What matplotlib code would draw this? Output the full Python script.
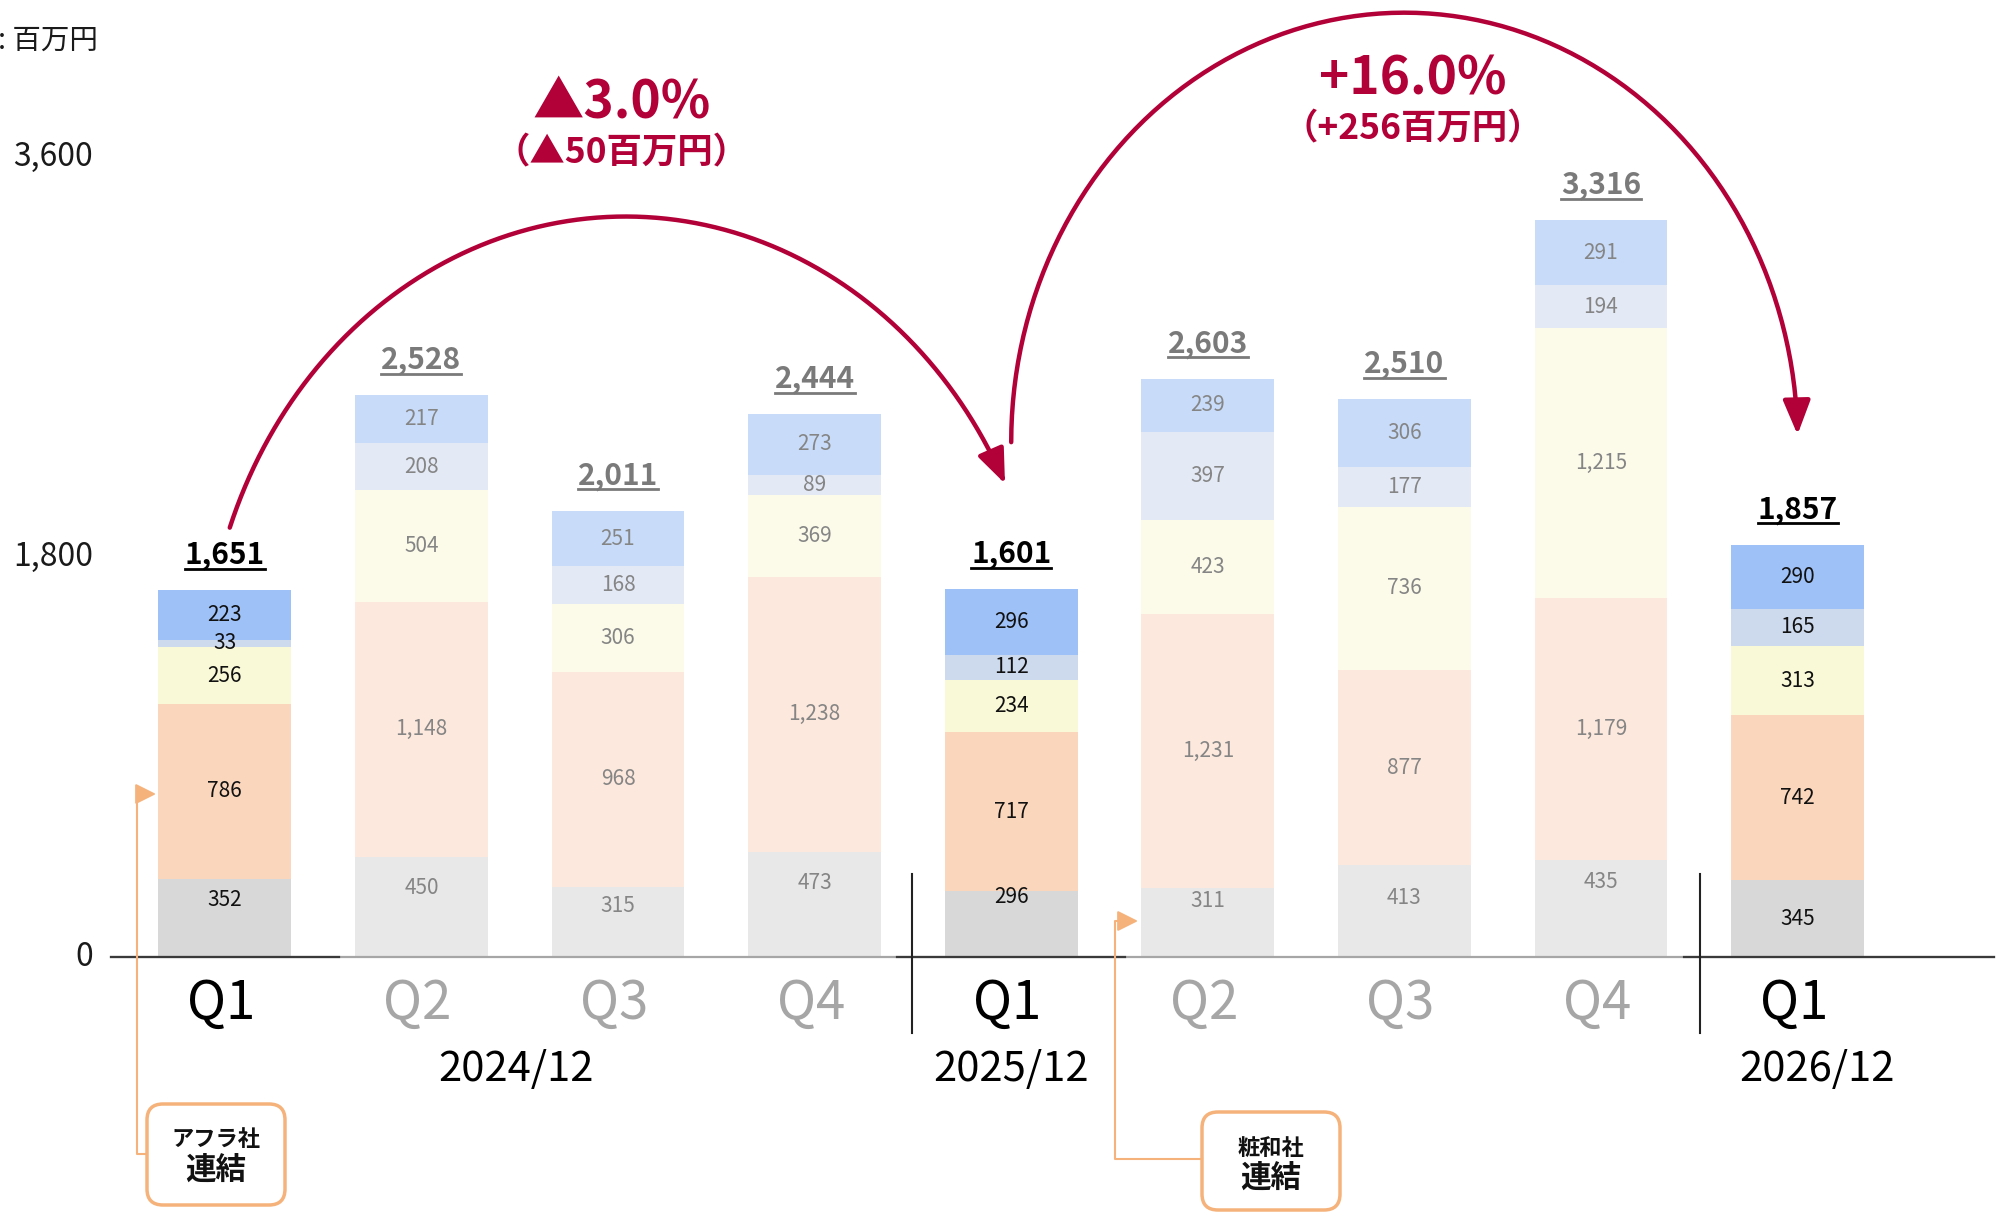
import matplotlib
matplotlib.use("Agg")
import matplotlib.pyplot as plt
import numpy as np
from matplotlib.path import Path
from matplotlib.patches import FancyArrowPatch, FancyBboxPatch

plt.rcParams['font.family'] = ['Noto Sans CJK JP', 'DejaVu Sans']

# --- data (百万円) ---
quarters = ['Q1', 'Q2', 'Q3', 'Q4', 'Q1', 'Q2', 'Q3', 'Q4', 'Q1']
years = ['2024/12', '2025/12', '2026/12']
totals = ['1,651', '2,528', '2,011', '2,444', '1,601', '2,603', '2,510', '3,316', '1,857']
seg_gray = [352, 450, 315, 473, 296, 311, 413, 435, 345]
seg_orange = [786, 1148, 968, 1238, 717, 1231, 877, 1179, 742]
seg_yellow = [256, 504, 306, 369, 234, 423, 736, 1215, 313]
seg_slate = [33, 208, 168, 89, 112, 397, 177, 194, 165]
seg_blue = [223, 217, 251, 273, 296, 239, 306, 291, 290]
highlight = [True, False, False, False, True, False, False, False, True]
ytick_vals = [0, 1800, 3600]
change_1 = ['▲3.0%', '（▲50百万円）']
change_2 = ['+16.0%', '（+256百万円）']
callouts = ['アフラ社\n連結', '粧和社\n連結']

# --- styles / layout ---
W, H = 2003, 1214
strong = ['#D8D8D8', '#FAD6BC', '#FAF9D7', '#CDD9EC', '#9EC1F7']
faded = ['#E8E8E8', '#FCE8DC', '#FCFBEA', '#E3E9F5', '#C8DCFA']
red = '#B20038'
orange_line = '#F5B27A'
gray_label_frac = [0.73, 0.69, 0.73, 0.70, 0.91, 0.81, 0.64, 0.78, 0.5]
year_x = [1.48, 4.0, 8.1]
bar_w = 0.676

fig = plt.figure(figsize=(W / 100, H / 100), dpi=100)
ax = fig.add_axes([0, 0, 1, 1])
ax.set_xlim(-1.1435, 9.0448)
ax.set_ylim(-1156, 4305)
ax.axis('off')

deco = fig.add_axes([0, 0, 1, 1], zorder=3)
deco.set_xlim(0, W)
deco.set_ylim(H, 0)
deco.axis('off')
deco.patch.set_alpha(0)

x = np.arange(len(quarters))
segments = [seg_gray, seg_orange, seg_yellow, seg_slate, seg_blue]
bottom = np.zeros(len(x))
for k, seg in enumerate(segments):
    cols = [strong[k] if h else faded[k] for h in highlight]
    ax.bar(x, seg, bottom=bottom, width=bar_w, color=cols, linewidth=0, zorder=2)
    for i, v in enumerate(seg):
        tc = '#111111' if highlight[i] else '#858585'
        ly = bottom[i] + (v * gray_label_frac[i] if k == 0 else v / 2)
        ax.text(i, ly, f'{v:,}', ha='center', va='center', fontsize=15, color=tc, zorder=4)
    bottom += np.array(seg)

# totals with underline
total_texts = []
for i, t in enumerate(totals):
    tc = '#000000' if highlight[i] else '#7A7A7A'
    total_texts.append(ax.text(i, bottom[i] + 119, t, ha='center', va='baseline',
                               fontsize=21.5, fontweight='bold', color=tc, zorder=4))

# baseline
ax.plot([-0.58, 9.0], [0, 0], color='#A6A6A6', lw=1.6, zorder=3)
for i, h in enumerate(highlight):
    if h:
        right = 9.0 if i == len(x) - 1 else i + 0.58
        ax.plot([i - 0.58, right], [0, 0], color='#3A3A3A', lw=1.6, zorder=3)
for sx in [3.495, 7.503]:
    ax.plot([sx, sx], [-341, 372], color='#222222', lw=1.5, zorder=3)

# category labels
for i, q in enumerate(quarters):
    ax.text(i - 0.02, -207, q, ha='center', va='center', fontsize=38,
            color='#000000' if highlight[i] else '#A6A6A6')
for xp, yr in zip(year_x, years):
    ax.text(xp, -508, yr, ha='center', va='center', fontsize=30, color='#000000')

# y tick labels
for v in ytick_vals:
    ax.text(-0.670, v, f'{v:,}', ha='right', va='center', fontsize=23, color='#1A1A1A')
deco.text(-2, 41, ': 百万円', ha='left', va='center', fontsize=20.5, color='#1A1A1A')


def arc(cx, cy, a, b, t0, t1, n=200):
    t = np.radians(np.linspace(t0, t1, n))
    return np.column_stack([cx + a * np.cos(t), cy + b * np.sin(t)])


for pts in [arc(2.039, 1204, 2.143, 2127, 160, 25.8), arc(6.0, 2316, 2.0, 1932, 180, 1)]:
    arrow = FancyArrowPatch(path=Path(pts), arrowstyle='-|>,head_length=1.05,head_width=0.42',
                            mutation_scale=20, color=red, lw=3.2, zorder=5)
    ax.add_patch(arrow)

ax.text(2.02, 3846, change_1[0], ha='center', va='center', fontsize=37, fontweight='bold', color=red)
ax.text(2.02, 3617, change_1[1], ha='center', va='center', fontsize=25.5, fontweight='bold', color=red)
ax.text(6.04, 3950, change_2[0], ha='center', va='center', fontsize=37, fontweight='bold', color=red)
ax.text(6.04, 3725, change_2[1], ha='center', va='center', fontsize=25.5, fontweight='bold', color=red)

# callout boxes with connectors
boxes = [(147, 1104, 138, 101), (1202, 1112, 138, 98)]
connectors = [((147, 1154), 137, (156, 794)), ((1202, 1159), 1115, (1138, 921))]
for (bx, by, bw, bh), label in zip(boxes, callouts):
    deco.add_patch(FancyBboxPatch((bx, by), bw, bh, boxstyle='round,pad=0,rounding_size=16',
                                  facecolor='white', edgecolor=orange_line, lw=2.5))
    first, second = label.split('\n')
    deco.text(bx + bw / 2, by + 36, first, ha='center', va='center', fontsize=16,
              fontweight='bold', color='#111111')
    deco.text(bx + bw / 2, by + 66, second, ha='center', va='center', fontsize=22,
              fontweight='bold', color='#111111')
for (sx, sy), vx, (tx, ty) in connectors:
    deco.plot([sx, vx, vx, tx - 12], [sy, sy, ty, ty], color=orange_line, lw=1.5)
    deco.annotate('', xy=(tx, ty), xytext=(tx - 14, ty),
                  arrowprops=dict(arrowstyle='-|>,head_length=0.9,head_width=0.45',
                                  mutation_scale=14, color=orange_line, lw=1.5,
                                  shrinkA=0, shrinkB=0))

# underline totals
fig.canvas.draw()
for i, txt in enumerate(total_texts):
    bb = txt.get_window_extent()
    base = H - ax.transData.transform((i, bottom[i] + 119))[1]
    deco.plot([bb.x0, bb.x1], [base + 5, base + 5], color=txt.get_color(), lw=2)

fig.savefig('out.png', dpi=100)
